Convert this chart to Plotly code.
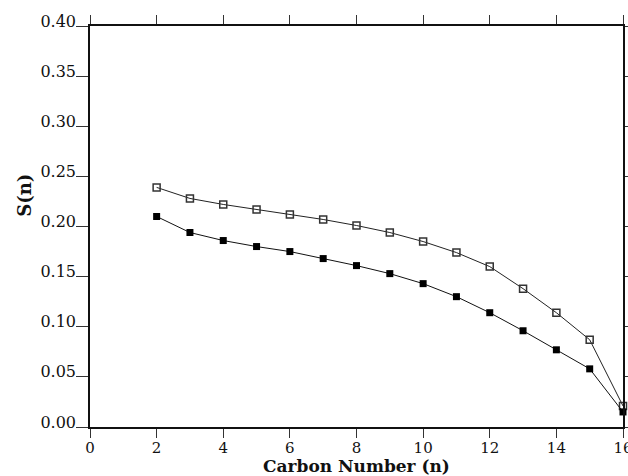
import plotly.graph_objects as go

carbon_number = [2, 3, 4, 5, 6, 7, 8, 9, 10, 11, 12, 13, 14, 15, 16]
s_open = [0.239, 0.228, 0.222, 0.217, 0.212, 0.207, 0.201, 0.194,
          0.185, 0.174, 0.160, 0.138, 0.114, 0.087, 0.021]
s_filled = [0.210, 0.194, 0.186, 0.180, 0.175, 0.168, 0.161, 0.153,
            0.143, 0.130, 0.114, 0.096, 0.077, 0.058, 0.015]

x_ticks = [0, 2, 4, 6, 8, 10, 12, 14, 16]
y_ticks = [0.00, 0.05, 0.10, 0.15, 0.20, 0.25, 0.30, 0.35, 0.40]

font_family = 'DejaVu Serif'

fig = go.Figure()

fig.add_trace(go.Scatter(
    x=carbon_number,
    y=s_open,
    mode='lines+markers',
    line=dict(color='#222222', width=1),
    marker=dict(symbol='square-open', size=7, color='#333333',
                line=dict(width=1.5)),
    cliponaxis=False,
    showlegend=False
))

fig.add_trace(go.Scatter(
    x=carbon_number,
    y=s_filled,
    mode='lines+markers',
    line=dict(color='#111111', width=1),
    marker=dict(symbol='square', size=7, color='#000000'),
    cliponaxis=False,
    showlegend=False
))

fig.update_layout(
    width=628,
    height=476,
    margin=dict(l=90, r=5, t=26, b=49),
    plot_bgcolor='white',
    paper_bgcolor='white',
    font=dict(family=font_family, size=15, color='#111111'),
    showlegend=False
)

fig.update_xaxes(
    range=[0, 16],
    tickvals=x_ticks,
    ticktext=[str(v) for v in x_ticks],
    showgrid=False,
    zeroline=False,
    showline=True,
    linecolor='#111111',
    linewidth=1.5,
    mirror='allticks',
    ticks='outside',
    ticklen=9,
    tickwidth=1,
    tickcolor='#333333',
    tickfont=dict(family=font_family, size=15),
    ticklabelstandoff=-3,
    ticklabeloverflow='allow',
    automargin=False
)

fig.update_yaxes(
    range=[0, 0.40],
    tickvals=y_ticks,
    ticktext=['%.2f' % v for v in y_ticks],
    showgrid=False,
    zeroline=False,
    showline=True,
    linecolor='#111111',
    linewidth=1.5,
    mirror='allticks',
    ticks='outside',
    ticklen=12,
    tickwidth=1,
    tickcolor='#333333',
    tickfont=dict(family=font_family, size=16),
    ticklabelshift=-5,
    ticklabelstandoff=-3,
    ticklabeloverflow='allow',
    automargin=False
)

# axis titles placed as annotations so they sit where the original has them
fig.add_annotation(
    text='<b>Carbon Number (n)</b>',
    xref='paper', yref='paper',
    x=0.5, y=-0.098,
    xanchor='center', yanchor='middle',
    showarrow=False,
    font=dict(family=font_family, size=17)
)

fig.add_annotation(
    text='<b>S(n)</b>',
    xref='paper', yref='paper',
    x=-0.122, y=0.579,
    xanchor='center', yanchor='middle',
    textangle=-90,
    showarrow=False,
    font=dict(family=font_family, size=18)
)

# the page body has a default 8px margin; drop it so the figure sits at 0,0
fig.write_html("out.html", config={'displayModeBar': False},
               post_script="document.body.style.margin='0';")
